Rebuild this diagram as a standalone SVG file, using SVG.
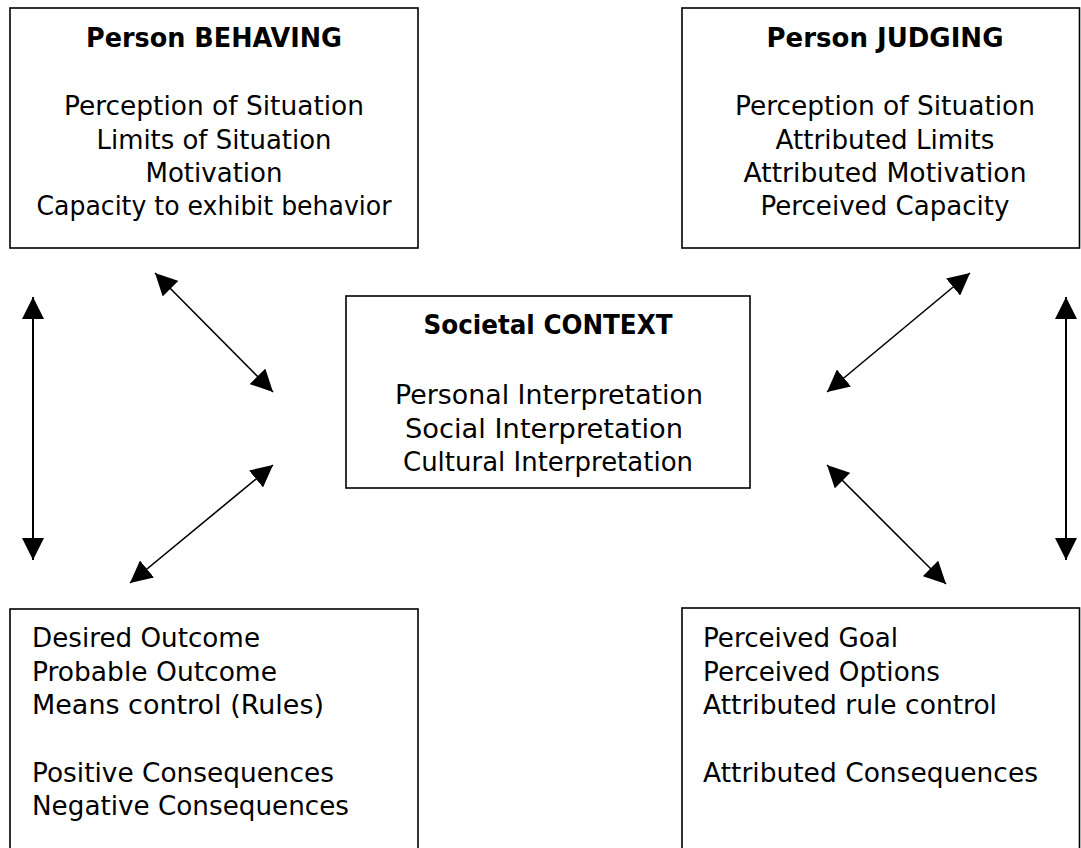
<svg xmlns="http://www.w3.org/2000/svg" width="1081" height="848" viewBox="0 0 1081 848">
<style>
.box{fill:#fff;stroke:#000;stroke-width:1.6}
text{font-family:"DejaVu Sans","Liberation Sans",sans-serif;font-size:26px;fill:#000}
.t{font-weight:bold}
.c{text-anchor:middle}
.l{text-anchor:start}
.con{stroke:#000;fill:none;marker-start:url(#ah);marker-end:url(#ah)}
</style>
<defs>
<marker id="ah" markerUnits="userSpaceOnUse" markerWidth="22" markerHeight="22" refX="20" refY="10" orient="auto-start-reverse" viewBox="0 0 20 20">
<path d="M0,0 L20,10 L0,20 z" fill="#000"/>
</marker>
</defs>
<rect width="1081" height="848" fill="#fff"/>
<g id="behaving">
<rect class="box" x="10" y="8" width="408" height="240"/>
<text class="t c" x="214" y="47" textLength="256" lengthAdjust="spacingAndGlyphs">Person BEHAVING</text>
<text class="c" x="214" y="115" textLength="300" lengthAdjust="spacingAndGlyphs">Perception of Situation</text>
<text class="c" x="214" y="148.5" textLength="235" lengthAdjust="spacingAndGlyphs">Limits of Situation</text>
<text class="c" x="214" y="182" textLength="137" lengthAdjust="spacingAndGlyphs">Motivation</text>
<text class="c" x="214" y="215" textLength="355" lengthAdjust="spacingAndGlyphs">Capacity to exhibit behavior</text>
</g>
<g id="judging">
<rect class="box" x="682" y="8" width="397.5" height="240"/>
<text class="t c" x="885" y="47" textLength="237" lengthAdjust="spacingAndGlyphs">Person JUDGING</text>
<text class="c" x="885" y="115" textLength="300" lengthAdjust="spacingAndGlyphs">Perception of Situation</text>
<text class="c" x="885" y="148.5" textLength="219" lengthAdjust="spacingAndGlyphs">Attributed Limits</text>
<text class="c" x="885" y="182" textLength="283" lengthAdjust="spacingAndGlyphs">Attributed Motivation</text>
<text class="c" x="885" y="215" textLength="249" lengthAdjust="spacingAndGlyphs">Perceived Capacity</text>
</g>
<g id="context">
<rect class="box" x="346" y="296" width="404" height="192"/>
<text class="t c" x="548" y="334" textLength="249" lengthAdjust="spacingAndGlyphs">Societal CONTEXT</text>
<text class="c" x="549" y="404" textLength="308" lengthAdjust="spacingAndGlyphs">Personal Interpretation</text>
<text class="c" x="544" y="437.5" textLength="278" lengthAdjust="spacingAndGlyphs">Social Interpretation</text>
<text class="c" x="548" y="471" textLength="290" lengthAdjust="spacingAndGlyphs">Cultural Interpretation</text>
</g>
<g id="outcomes">
<rect class="box" x="10" y="609" width="408" height="260"/>
<text class="l" x="32" y="647" textLength="228" lengthAdjust="spacingAndGlyphs">Desired Outcome</text>
<text class="l" x="32" y="680.5" textLength="245" lengthAdjust="spacingAndGlyphs">Probable Outcome</text>
<text class="l" x="32" y="714" textLength="292" lengthAdjust="spacingAndGlyphs">Means control (Rules)</text>
<text class="l" x="32" y="782" textLength="302" lengthAdjust="spacingAndGlyphs">Positive Consequences</text>
<text class="l" x="32" y="815" textLength="317" lengthAdjust="spacingAndGlyphs">Negative Consequences</text>
</g>
<g id="perceived">
<rect class="box" x="682" y="608" width="397.5" height="260"/>
<text class="l" x="703" y="647" textLength="195" lengthAdjust="spacingAndGlyphs">Perceived Goal</text>
<text class="l" x="703" y="680.5" textLength="237" lengthAdjust="spacingAndGlyphs">Perceived Options</text>
<text class="l" x="703" y="714" textLength="294" lengthAdjust="spacingAndGlyphs">Attributed rule control</text>
<text class="l" x="703" y="782" textLength="335" lengthAdjust="spacingAndGlyphs">Attributed Consequences</text>
</g>
<g id="connectors">
<line class="con" x1="33" y1="297" x2="33" y2="560" stroke-width="2"/>
<line class="con" x1="155" y1="273" x2="273" y2="392" stroke-width="1.6"/>
<line class="con" x1="273" y1="465" x2="130" y2="583" stroke-width="1.6"/>
<line class="con" x1="970" y1="273" x2="827" y2="392" stroke-width="1.6"/>
<line class="con" x1="827" y1="465" x2="946" y2="584" stroke-width="1.6"/>
<line class="con" x1="1066" y1="297" x2="1066" y2="560" stroke-width="2"/>
</g>
</svg>
